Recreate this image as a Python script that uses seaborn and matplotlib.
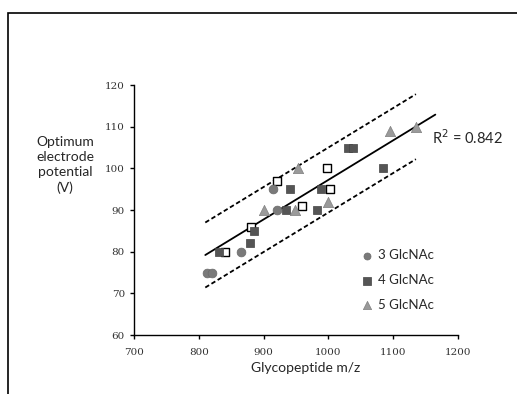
import numpy as np
import pandas as pd
import matplotlib
matplotlib.use('Agg')
import matplotlib.pyplot as plt
import seaborn as sns
from matplotlib.patches import Rectangle

# data
mz_3 = [812, 820, 865, 915, 920]
v_3 = [75, 75, 80, 95, 90]

mz_4 = [831, 879, 885, 935, 940, 983, 988, 1030, 1038, 1085]
v_4 = [80, 82, 85, 90, 95, 90, 95, 105, 105, 100]

mz_5 = [900, 948, 953, 1000, 1095, 1135]
v_5 = [90, 90, 100, 92, 109, 110]

# open squares (no legend entry)
mz_open = [840, 880, 920, 960, 998, 1002]
v_open = [80, 86, 97, 91, 100, 95]

fit_x = [810, 1165]
fit_y = [79.2, 112.9]
band_x = [810, 1135]
band_mid = [79.2, 110.0]
band = 7.8
r2_label = "R$^2$ = 0.842"

sns.set_style("white")
plt.rcParams['font.family'] = ['Lato', 'DejaVu Sans']

fig = plt.figure(figsize=(5.17, 3.94), dpi=100)
ax = fig.add_axes([0.2592, 0.1497, 0.6267, 0.6345])

# outer frame of the original figure
fig.patches.append(Rectangle((8 / 517, -0.05), 1.2, (394 - 13) / 394 + 0.05,
                             transform=fig.transFigure, fill=False,
                             edgecolor='black', linewidth=1.2))

sns.lineplot(x=fit_x, y=fit_y, ax=ax, color='black', linewidth=1.3)
bx = np.array(band_x)
bm = np.array(band_mid)
sns.lineplot(x=bx, y=bm + band, ax=ax, color='black', linewidth=1.3, linestyle=(0, (2.5, 1.5)))
sns.lineplot(x=bx, y=bm - band, ax=ax, color='black', linewidth=1.3, linestyle=(0, (2.5, 1.5)))

sns.scatterplot(x=mz_open, y=v_open, ax=ax, marker='s', s=40, color='white',
                edgecolor='black', linewidth=1.0, zorder=3)
sns.scatterplot(x=mz_3, y=v_3, ax=ax, marker='o', s=40, color='#7a7a7a',
                edgecolor='#6a6a6a', linewidth=0.5, label='3 GlcNAc', zorder=4)
sns.scatterplot(x=mz_4, y=v_4, ax=ax, marker='s', s=40, color='#555555',
                edgecolor='#444444', linewidth=0.5, label='4 GlcNAc', zorder=4)
sns.scatterplot(x=mz_5, y=v_5, ax=ax, marker='^', s=55, color='#9a9a9a',
                edgecolor='#808080', linewidth=0.5, label='5 GlcNAc', zorder=4)

ax.set_xlim(700, 1200)
ax.set_ylim(60, 120)
ax.set_xticks(range(700, 1201, 100))
ax.set_yticks(range(60, 121, 10))
for sp in ['top', 'right']:
    ax.spines[sp].set_visible(False)
for sp in ['left', 'bottom']:
    ax.spines[sp].set_color('black')
    ax.spines[sp].set_linewidth(1.0)
ax.tick_params(axis='both', direction='out', length=3, width=1, color='black',
               labelsize=7.5, labelcolor='#333333', left=True, bottom=True)
ax.tick_params(axis='x', pad=6)
for lab in ax.get_xticklabels() + ax.get_yticklabels():
    lab.set_fontfamily('DejaVu Serif')

ax.set_xlabel('Glycopeptide m/z', fontsize=10)
ax.xaxis.set_label_coords((306 - 134) / 324, -(27) / 250)
ax.set_ylabel('')
fig.text(65 / 517, 1 - 165 / 394, 'Optimum\nelectrode\npotential\n(V)', ha='center',
         va='center', fontsize=10, linespacing=1.3)
fig.text(432 / 517, 1 - 138 / 394, r2_label, ha='left', va='center', fontsize=10.5)

ax.legend(loc='center left', bbox_to_anchor=((360 - 134) / 324, 1 - (280 - 85) / 250),
          frameon=False, fontsize=9.5, handletextpad=0.4, labelspacing=0.95,
          markerscale=0.8, handlelength=1.0, borderpad=0, borderaxespad=0)

fig.savefig('out.png', dpi=100)
